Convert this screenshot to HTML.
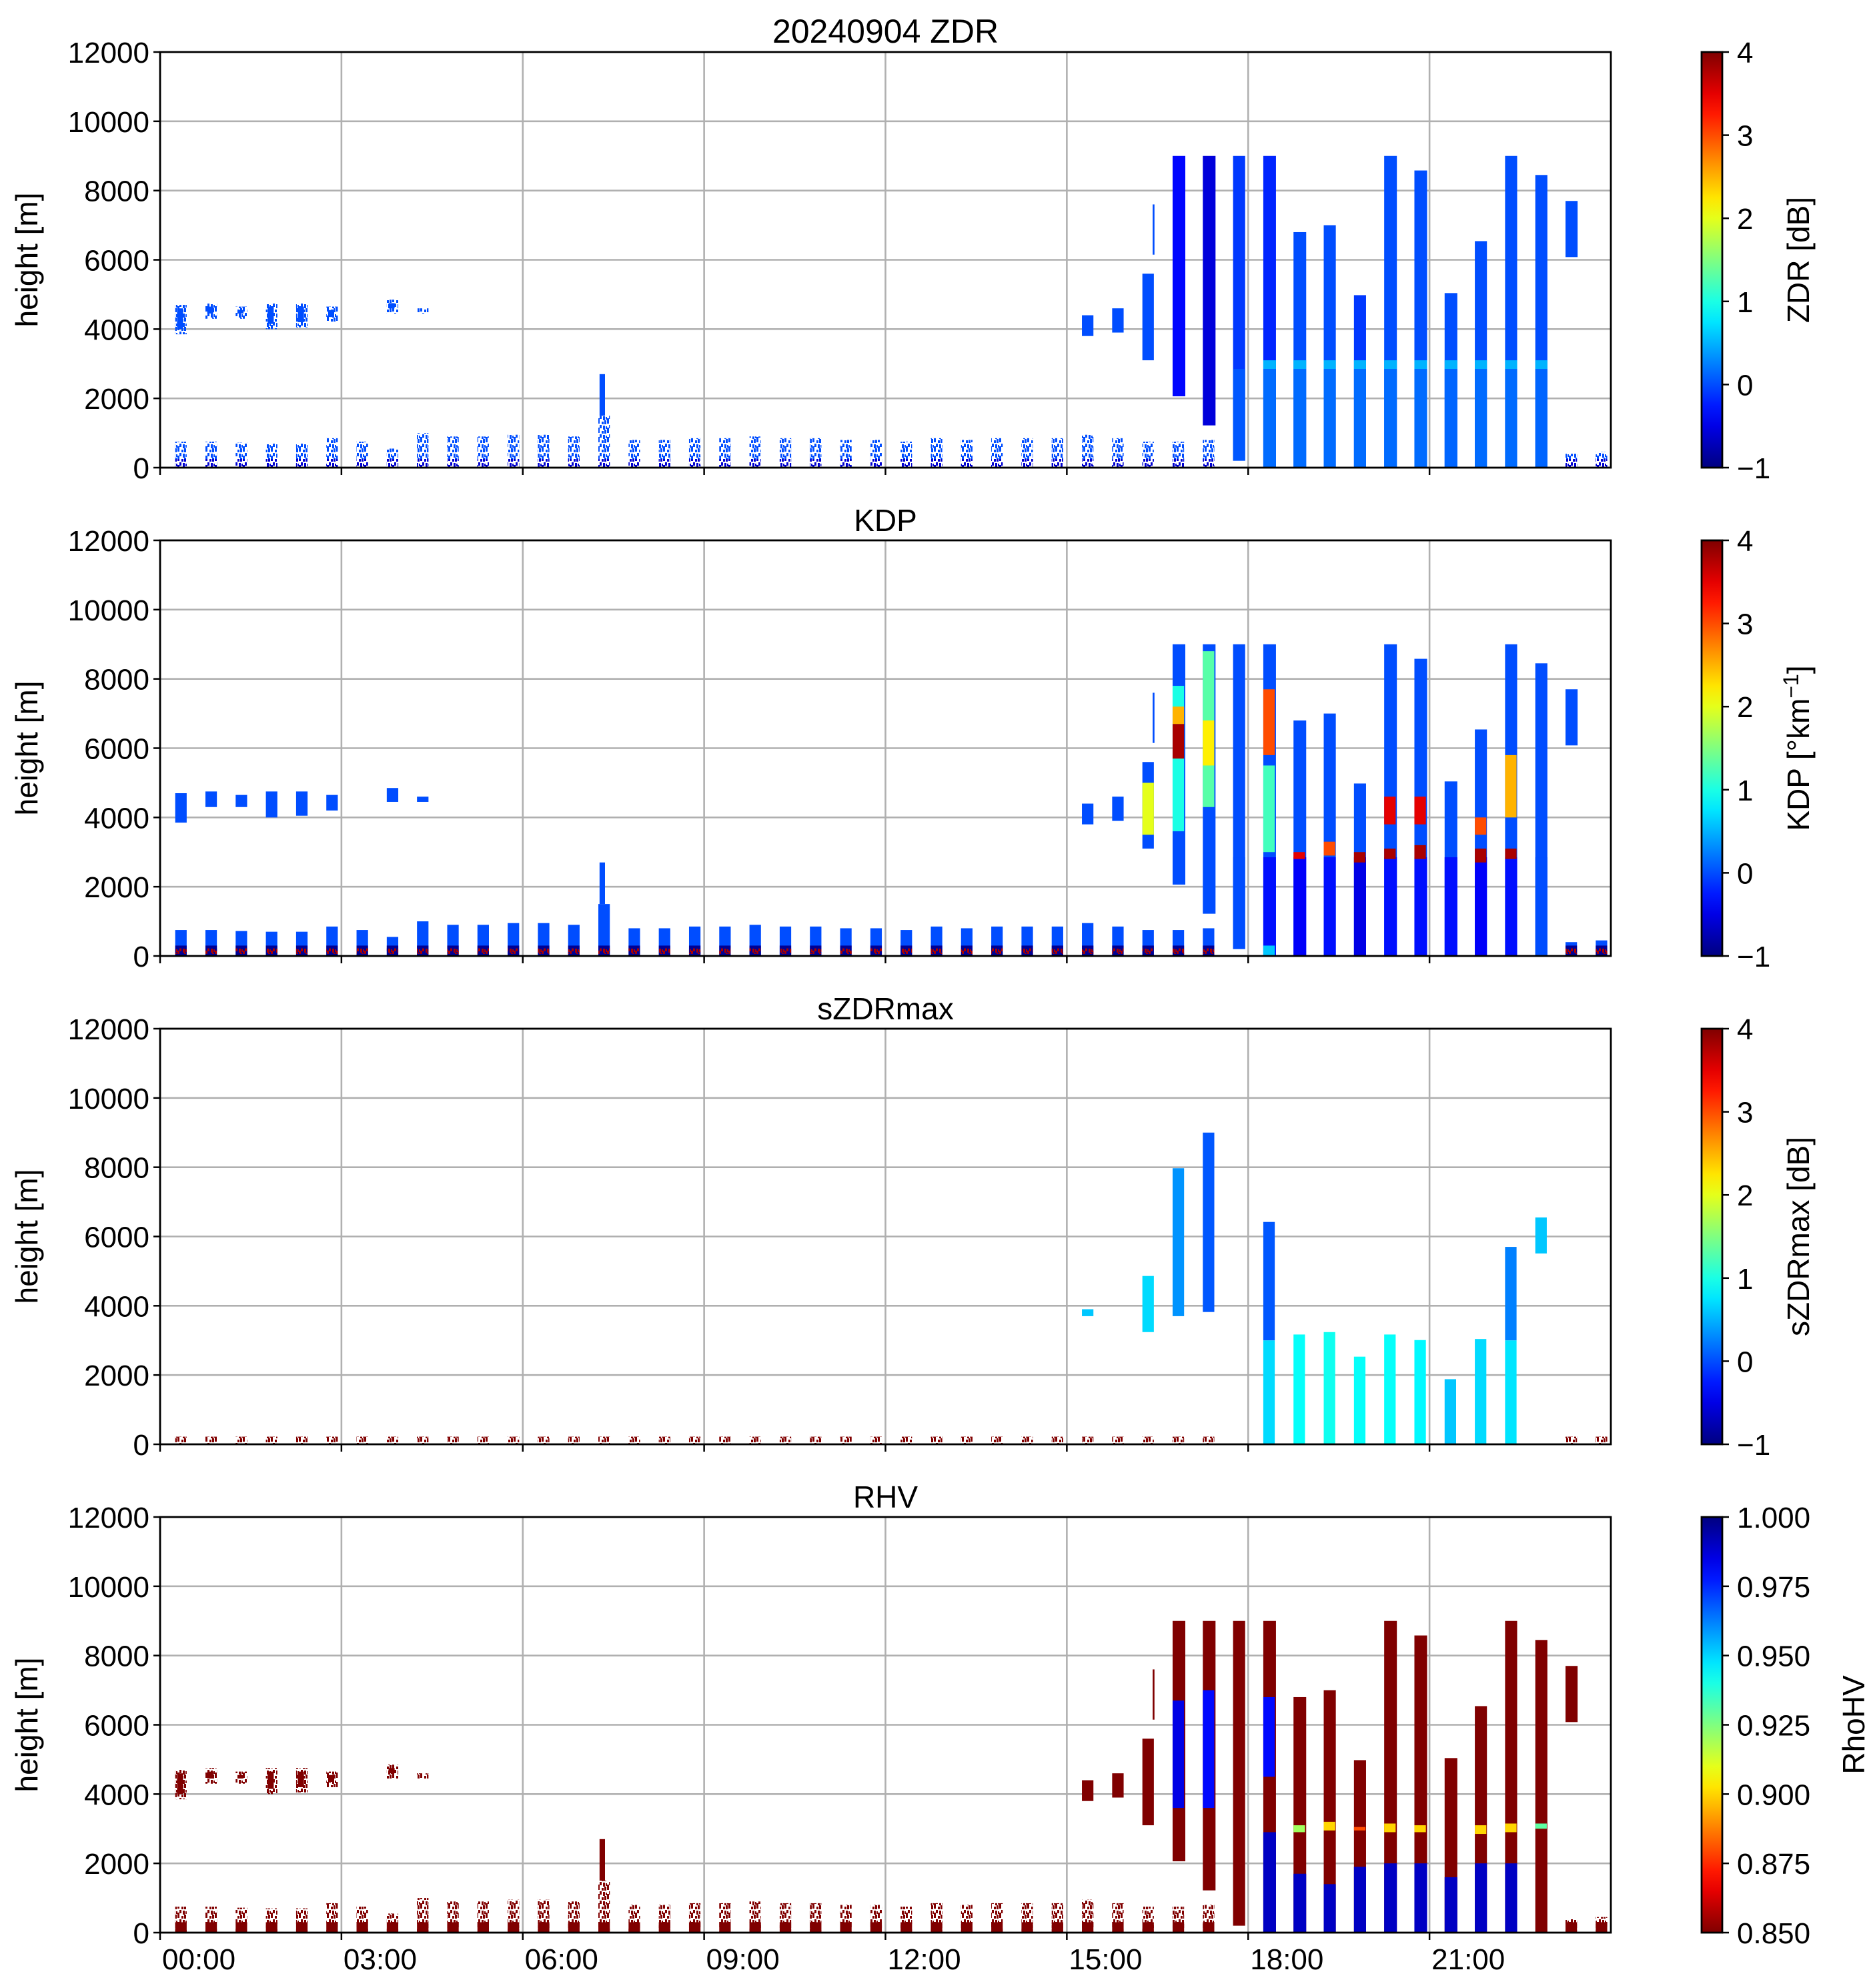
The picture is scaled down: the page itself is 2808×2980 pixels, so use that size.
<!DOCTYPE html>
<html><head><meta charset="utf-8">
<style>
html,body{margin:0;padding:0;background:#fff;}
svg{display:block;font-family:"Liberation Sans","DejaVu Sans",sans-serif;}
</style></head>
<body>
<svg id="fig" xmlns="http://www.w3.org/2000/svg" width="2808" height="2980" viewBox="0 0 2808 2980"></svg>
<script>
// ---------- DATA ----------
const scanHour = [0.25,0.75,1.25,1.75,2.25,2.75,3.25,3.75,4.25,4.75,5.25,5.75,6.25,6.75,7.25,7.75,8.25,8.75,9.25,9.75,10.25,10.75,11.25,11.75,12.25,12.75,13.25,13.75,14.25,14.75,15.25,15.75,16.25,16.75,17.25,23.25,23.75];
const scanTop = [750,750,720,700,700,850,750,550,1000,900,900,950,950,900,1500,800,800,850,850,900,850,850,800,800,750,850,800,850,850,850,950,850,750,750,800,400,450];
const upperHour = [0.25,0.75,1.25,1.75,2.25,2.75,3.75,4.25];
const upperBot = [3850,4300,4300,4000,4050,4200,4450,4450];
const upperTop = [4700,4750,4650,4750,4750,4650,4850,4600];
const colHour = [15.25,15.75,16.25,16.42,16.75,17.25,17.75,18.25,18.75,19.25,19.75,20.25,20.75,21.25,21.75,22.25,22.75,23.25,7.27];
const colDur = [0.19,0.19,0.19,0.03,0.21,0.21,0.2,0.21,0.21,0.2,0.2,0.21,0.21,0.21,0.2,0.2,0.2,0.2,0.09];
const colBot = [3800,3900,3100,6150,2060,1220,200,0,0,0,0,0,0,0,0,0,0,6080,1500];
const colTop = [4400,4600,5600,7600,9000,9000,9000,9000,6800,7000,4980,9000,8580,5040,6540,9000,8450,7700,2700];
const zdrColVal = [0,0,0,0,-0.35,-0.55,-0.1,-0.2,0,0,-0.1,0,0,0,0,0,0,0,0];
const zdrLowVal = [0,0,0,0,-0.2,-0.3,0.05,0.15,0.15,0.15,0.15,0.15,0.15,0.12,0.15,0.15,0.12,0,0];
const kdpColVal = [0,0,0,0,0,0,0,0,0,0,0,0,0,0,0,0,0,0,0];
const kdpLowVal = [0,0,0,0,0,0,0,-0.3,-0.4,-0.3,-0.5,-0.3,-0.3,-0.3,-0.4,-0.3,0,0,0];
const rhvColVal = [0.8,0.8,0.8,0.8,0.8,0.8,0.8,0.8,0.8,0.8,0.8,0.8,0.8,0.8,0.8,0.8,0.8,0.8,0.8];
const rhvLowVal = [0.8,0.8,0.8,0.8,0.8,0.8,0.8,0.99,0.99,0.99,0.99,0.99,0.99,0.99,0.99,0.99,0.8,0.8,0.8];
const rhvLowTop = [0,0,0,0,0,0,0,2900,1700,1400,1900,2000,2000,1600,2000,2000,0,0,0];
const kdpPatchHour = [16.75,16.75,16.75,17.25,17.25,18.25,18.25,16.25,20.25,20.75,22.25,21.75,18.75,19.25,19.75,20.25,20.75,22.25,21.75,18.25];
const kdpPatchBot = [3600,5700,6700,4300,5500,5800,3000,3500,2800,2800,2800,2700,2800,2900,2700,3800,3800,4000,3500,0];
const kdpPatchTop = [7800,6700,7200,8800,6800,7700,5500,5000,3100,3200,3100,3100,3000,3300,3000,4600,4600,5800,4000,300];
const kdpPatchVal = [1.0,3.8,2.5,1.3,2.2,3.0,1.2,2.0,3.8,3.8,3.8,3.8,3.5,3.0,3.8,3.5,3.5,2.5,3.0,0.6];
const rhvPatchHour = [16.75,17.25,18.25,20.25,20.75,22.25,21.75,18.75,19.25,19.75,22.75];
const rhvPatchBot = [3600,3600,4500,2900,2900,2900,2850,2900,2950,2950,3000];
const rhvPatchTop = [6700,7000,6800,3150,3100,3150,3100,3100,3200,3050,3150];
const rhvPatchVal = [0.985,0.98,0.98,0.9,0.9,0.9,0.9,0.92,0.9,0.88,0.93];
const szHour = [16.25,16.75,17.25,18.25,18.25,18.75,19.25,19.75,20.25,20.75,21.25,21.75,22.25,22.25,22.75,15.25];
const szBot = [3240,3700,3820,3000,0,0,0,0,0,0,0,0,3000,0,5510,3700];
const szTop = [4860,7970,9000,6420,3000,3170,3240,2530,3170,3010,1880,3040,5700,3000,6550,3900];
const szVal = [0.7,0.35,0.05,0.05,0.7,0.9,0.95,0.9,0.9,0.85,0.6,0.7,0.25,0.75,0.6,0.6];
const cbTicksStd = [-1,0,1,2,3,4];
const cbTicksRhv = [0.85,0.875,0.9,0.925,0.95,0.975,1.0];
const yTicks = [0,2000,4000,6000,8000,10000,12000];
const xTicks = [0,3,6,9,12,15,18,21];
const xTickLabels = ["00:00","03:00","06:00","09:00","12:00","15:00","18:00","21:00"];

// ---------- LAYOUT ----------
const NS="http://www.w3.org/2000/svg";
const svg=document.getElementById('fig');
const X0=240,X1=2415,PH=623;
const tops=[78,810,1542,2274];
const CB0=2551,CB1=2582;
function xs(h){return X0+h/24*(X1-X0);}
function ys(top,m){return top+PH-m/12000*PH;}
function cl(v){return Math.max(0,Math.min(1,v));}
function jet(t){t=cl(t);const r=cl(1.5-Math.abs(4*t-3)),g=cl(1.5-Math.abs(4*t-2)),b=cl(1.5-Math.abs(4*t-1));
 return 'rgb('+Math.round(r*255)+','+Math.round(g*255)+','+Math.round(b*255)+')';}
function el(tag,attrs,parent){const e=document.createElementNS(NS,tag);for(const k in attrs)e.setAttribute(k,attrs[k]);(parent||svg).appendChild(e);return e;}
const defs=el('defs',{});


let patN=0;
function speckle(color){
 const id='sp'+(patN++);
 const p=el('pattern',{id:id,width:14,height:14,patternUnits:'userSpaceOnUse'},defs);
 const bits=[[0,0,3,5],[6,2,3,4],[10,0,3,6],[3,7,3,5],[8,8,3,6],[12,9,2,4],[0,11,3,3]];
 bits.forEach(b=>el('rect',{x:b[0],y:b[1],width:b[2],height:b[3],fill:color},p));
 return 'url(#'+id+')';
}

const panels=[
 {key:'zdr',title:'20240904 ZDR',cb:'ZDR [dB]',norm:v=>(v+1)/5,ticks:cbTicksStd,colVal:zdrColVal,lowVal:zdrLowVal,bandVal:0.5},
 {key:'kdp',title:'KDP',cb:'KDP',norm:v=>(v+1)/5,ticks:cbTicksStd,colVal:kdpColVal,lowVal:kdpLowVal,bandVal:null},
 {key:'szdrmax',title:'sZDRmax',cb:'sZDRmax [dB]',norm:v=>(v+1)/5,ticks:cbTicksStd},
 {key:'rhv',title:'RHV',cb:'RhoHV',norm:v=>1-(v-0.85)/0.15,ticks:cbTicksRhv,colVal:rhvColVal,lowVal:rhvLowVal,bandVal:null}
];

panels.forEach((P,pi)=>{
 const T=tops[pi];
 const g=el('g',{});
 
 
 const c=v=>jet(P.norm(v));
 yTicks.forEach(t=>{const gl=el('line',{x1:X0,x2:X1,y1:ys(T,t),y2:ys(T,t),stroke:'#b0b0b0','stroke-width':2.6},g);
  
  });
 xTicks.forEach(t=>{const gl=el('line',{x1:xs(t),x2:xs(t),y1:T,y2:T+PH,stroke:'#b0b0b0','stroke-width':2.6},g);
  
  });
 const dg=el('g',{},g);
 
 
 function rect(h,dur,b,t,fill,name){
  if(t<=b)return;
  const r=el('rect',{x:xs(h),y:ys(T,t),width:xs(h+dur)-xs(h),height:ys(T,b)-ys(T,t),fill:fill},dg);
  
  
 }
 scanHour.forEach((h,i)=>{
  if(P.key==='zdr'){rect(h,0.19,0,scanTop[i],speckle(c(0)),'scan-echo');rect(h,0.19,0,250,speckle(c(-0.6)),'scan-base');}
  else if(P.key==='kdp'){rect(h,0.19,0,scanTop[i],c(0),'scan-echo');rect(h,0.19,0,300,c(-0.9),'scan-base');rect(h,0.19,60,220,speckle(c(3.8)),'scan-base-hot');}
  else if(P.key==='rhv'){rect(h,0.19,0,scanTop[i],speckle(c(0.8)),'scan-echo');rect(h,0.19,0,300,c(0.8),'scan-base');}
  else {rect(h,0.19,0,220,speckle(c(4)),'scan-base');}
 });
 if(P.key!=='szdrmax'){
  upperHour.forEach((h,i)=>{
   const f=P.key==='kdp'?c(0):speckle(c(P.key==='rhv'?0.8:0));
   rect(h,0.19,upperBot[i],upperTop[i],f,'upper-layer-echo');
   if(P.key!=='kdp')rect(h+0.03,0.1,upperBot[i]+150,upperTop[i]-100,c(P.key==='rhv'?0.8:0),'upper-layer-core');
  });
  colHour.forEach((h,i)=>{
   rect(h,colDur[i],colBot[i],colTop[i],c(P.colVal[i]),'storm-column');
   let lt = P.key==='rhv'? rhvLowTop[i] : (i>=6&&i<=16? Math.min(colTop[i],2850):0);
   if(lt>0)rect(h,colDur[i],colBot[i],lt,c(P.lowVal[i]),'storm-column-lower');
   if(P.bandVal!==null&&i>=7&&i<=16)rect(h,colDur[i],2850,3100,c(P.bandVal),'melting-layer');
  });
  if(P.key==='kdp')kdpPatchHour.forEach((h,i)=>rect(h,0.19,kdpPatchBot[i],kdpPatchTop[i],c(kdpPatchVal[i]),'kdp-patch'));
  if(P.key==='rhv')rhvPatchHour.forEach((h,i)=>rect(h,0.19,rhvPatchBot[i],rhvPatchTop[i],c(rhvPatchVal[i]),'rhv-patch'));
 } else {
  szHour.forEach((h,i)=>rect(h,0.19,szBot[i],szTop[i],c(szVal[i]),'szdrmax-column'));
 }
 const fr=el('rect',{x:X0,y:T,width:X1-X0,height:PH,fill:'none',stroke:'#000','stroke-width':2.8},g);
 
 
 yTicks.forEach(t=>{
  const tl=el('line',{x1:X0-10,x2:X0,y1:ys(T,t),y2:ys(T,t),stroke:'#000','stroke-width':2.5},g);
  
  
  const tx=el('text',{x:X0-16,y:ys(T,t)+16,'text-anchor':'end','font-size':44},g);
  tx.textContent=t;
  
  
 });
 xTicks.forEach((t,k)=>{
  const tl=el('line',{x1:xs(t),x2:xs(t),y1:T+PH,y2:T+PH+11,stroke:'#000','stroke-width':2.5},g);
  
  
  if(pi===3){const tx=el('text',{x:xs(t)+3,y:T+PH+55,'font-size':44},g);
   tx.textContent=xTickLabels[k];
   
   }
 });
 const yl=el('text',{x:0,y:0,'text-anchor':'middle','font-size':46,transform:'translate(56,'+(T+PH/2)+') rotate(-90)'},g);
 yl.textContent='height [m]';
 
 
 const tt=el('text',{x:(X0+X1)/2,y:T-14,'text-anchor':'middle','font-size':pi===0?50:46},g);
 tt.textContent=P.title;
 
 
 const gid='cbg'+pi;
 const lg=el('linearGradient',{id:gid,x1:0,y1:1,x2:0,y2:0},defs);
 for(let s=0;s<=20;s++){const f=s/20;const v=P.ticks[0]+f*(P.ticks[P.ticks.length-1]-P.ticks[0]);
  el('stop',{offset:f,'stop-color':c(v)},lg);}
 const cb=el('rect',{x:CB0,y:T,width:CB1-CB0,height:PH,fill:'url(#'+gid+')',stroke:'#000','stroke-width':2.8},g);
 
 
 const lo=P.ticks[0],hi=P.ticks[P.ticks.length-1];
 P.ticks.forEach(t=>{
  const yy=T+PH-(t-lo)/(hi-lo)*PH;
  const tl=el('line',{x1:CB1,x2:CB1+10,y1:yy,y2:yy,stroke:'#000','stroke-width':2.5},g);
  
  
  const tx=el('text',{x:CB1+22,y:yy+16,'font-size':44},g);
  tx.textContent=P.key==='rhv'?t.toFixed(3):(t<0?'\u2212'+Math.abs(t):String(t));
  
  
 });
 const cbl=el('text',{x:0,y:0,'text-anchor':'middle','font-size':46,transform:'translate('+(P.key==='rhv'?2795:2712)+','+(T+PH/2)+') rotate(-90)'},g);
 if(P.key==='kdp'){cbl.textContent='KDP [\u00b0km';const sp=el('tspan',{dy:-16,'font-size':32},cbl);sp.textContent='\u22121';const sp2=el('tspan',{dy:16},cbl);sp2.textContent=']';}
 else cbl.textContent=P.cb;
 
 
});
</script>
</body></html>
